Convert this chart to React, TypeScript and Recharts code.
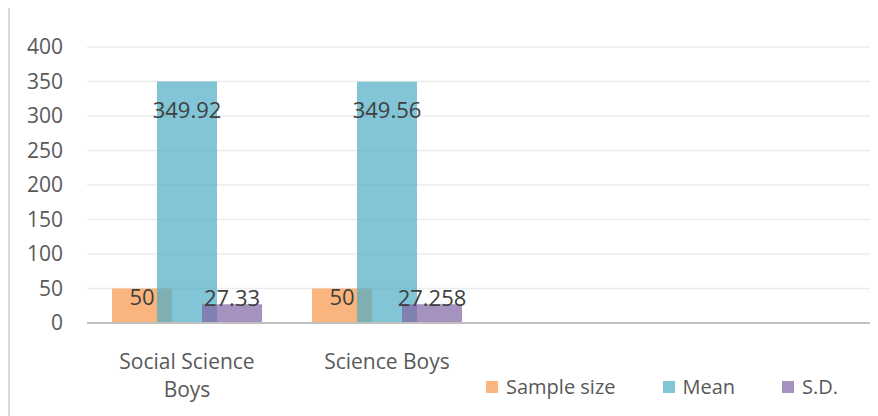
import React from "react";
import {
  BarChart,
  Bar,
  XAxis,
  YAxis,
  CartesianGrid,
  Legend,
  LabelList,
} from "recharts";

// Category axis: two groups with data, two trailing empty slots
const categories = ["Social Science Boys", "Science Boys", "", ""];
const sampleSize = [50, 50, null, null];
const meanScore = [349.92, 349.56, null, null];
const stdDev = [27.33, 27.258, null, null];
const seriesNames = ["Sample size", "Mean", "S.D."];
const yTicks = [0, 50, 100, 150, 200, 250, 300, 350, 400];

const data = categories.map((name, i) => ({
  name,
  sample: sampleSize[i],
  mean: meanScore[i],
  sd: stdDev[i],
}));

const FONT = "'Open Sans', 'Liberation Sans', sans-serif";
const COLORS = ["#F79646", "#4BACC6", "#8064A2"];
const FILL_OPACITY = 0.7;
const MAX_LINE_CHARS = 15;

// Greedy word wrap for category names
const wrapWords = (label: string): string[] => {
  const lines: string[] = [];
  let current = "";
  label.split(" ").forEach((word) => {
    const next = current ? `${current} ${word}` : word;
    if (next.length > MAX_LINE_CHARS && current) {
      lines.push(current);
      current = word;
    } else {
      current = next;
    }
  });
  if (current) lines.push(current);
  return lines;
};

const makeValueLabel = (dy: number) => (props: any) => {
  const { x, y, width, value } = props;
  if (value === null || value === undefined) return null;
  return (
    <text
      x={Number(x) + Number(width) / 2}
      y={Number(y) + dy}
      textAnchor="middle"
      fontFamily={FONT}
      fontSize={22}
      fill="#404040"
    >
      {value}
    </text>
  );
};

const CategoryTick = (props: any) => {
  const { x, y, payload } = props;
  if (!payload || !payload.value) return null;
  const lines = wrapWords(String(payload.value));
  return (
    <text
      x={x}
      y={y + 46}
      textAnchor="middle"
      fontFamily={FONT}
      fontSize={21}
      fill="#595959"
    >
      {lines.map((line, i) => (
        <tspan key={i} x={x} dy={i === 0 ? 0 : 28}>
          {line}
        </tspan>
      ))}
    </text>
  );
};

const renderLegend = () => (
  <div
    style={{
      display: "flex",
      alignItems: "center",
      fontFamily: FONT,
      fontSize: 20,
      color: "#595959",
      whiteSpace: "nowrap",
    }}
  >
    {seriesNames.map((name, i) => (
      <div
        key={name}
        style={{ display: "flex", alignItems: "center", marginRight: 47 }}
      >
        <span
          style={{
            display: "inline-block",
            width: 12,
            height: 12,
            background: COLORS[i],
            opacity: FILL_OPACITY,
            marginRight: 8,
          }}
        />
        <span>{name}</span>
      </div>
    ))}
  </div>
);

export default function App() {
  return (
    <div
      style={{
        width: 868,
        height: 410,
        overflow: "hidden",
        marginTop: -2,
        borderLeft: "2px solid #d9d9d9",
        borderTop: "2px solid #d9d9d9",
        background: "#ffffff",
      }}
    >
      <BarChart
        width={900}
        height={408}
        data={data}
        margin={{ top: 39, right: 23, left: 0, bottom: 6 }}
        barSize={60}
        barGap={-15}
      >
        <CartesianGrid vertical={false} stroke="#ececec" strokeWidth={1.5} />
        <XAxis
          dataKey="name"
          tick={<CategoryTick />}
          tickLine={false}
          tickSize={0}
          tickMargin={0}
          axisLine={{ stroke: "#bfbfbf", strokeWidth: 2 }}
          height={60}
          interval={0}
        />
        <YAxis
          domain={[0, 400]}
          ticks={yTicks}
          width={77}
          axisLine={false}
          tickLine={false}
          tickSize={0}
          tickMargin={24}
          tick={{ fill: "#595959", fontSize: 21, fontFamily: FONT }}
        />
        <Legend
          content={renderLegend}
          verticalAlign="bottom"
          wrapperStyle={{ left: 476, top: 365, width: "auto", bottom: "auto" }}
        />
        <Bar
          dataKey="sample"
          name={seriesNames[0]}
          fill={COLORS[0]}
          fillOpacity={FILL_OPACITY}
          isAnimationActive={false}
        >
          <LabelList dataKey="sample" content={makeValueLabel(16.5)} />
        </Bar>
        <Bar
          dataKey="mean"
          name={seriesNames[1]}
          fill={COLORS[1]}
          fillOpacity={FILL_OPACITY}
          isAnimationActive={false}
        >
          <LabelList dataKey="mean" content={makeValueLabel(36)} />
        </Bar>
        <Bar
          dataKey="sd"
          name={seriesNames[2]}
          fill={COLORS[2]}
          fillOpacity={FILL_OPACITY}
          isAnimationActive={false}
        >
          <LabelList dataKey="sd" content={makeValueLabel(2)} />
        </Bar>
      </BarChart>
    </div>
  );
}
